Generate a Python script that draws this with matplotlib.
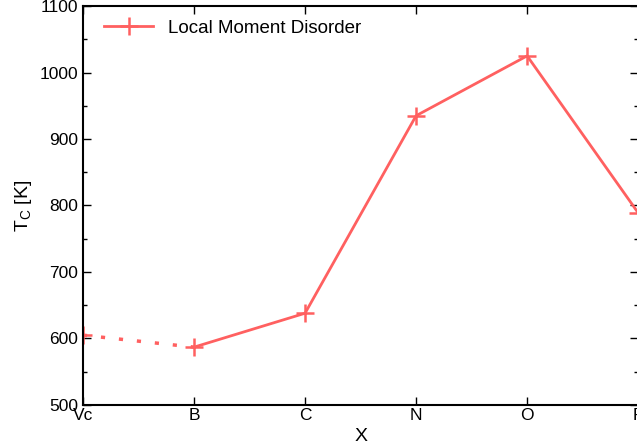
import matplotlib
matplotlib.use("Agg")
import matplotlib.pyplot as plt
from matplotlib.ticker import MultipleLocator

plt.rcParams['font.family'] = ['Liberation Sans', 'DejaVu Sans']
plt.rcParams['mathtext.fontset'] = 'custom'
plt.rcParams['mathtext.rm'] = 'Liberation Sans'
plt.rcParams['mathtext.it'] = 'Liberation Sans:italic'

# data
labels = ['Vc', 'B', 'C', 'N', 'O', 'F']
tc = [605, 587, 638, 935, 1025, 789]

color = '#ff6060'
x = list(range(len(labels)))

fig = plt.figure(figsize=(6.37, 4.48), dpi=100)
ax = fig.add_axes([0.1303, 0.096, 0.8715, 0.8906])

# dotted link Vc -> B, solid for the rest
ax.plot(x[:2], tc[:2], ls=(0, (1.2, 4.0)), lw=2.5, color=color, dash_capstyle='butt')
ax.plot(x[1:], tc[1:], ls='-', lw=2, color=color)
ax.plot(x, tc, ls='none', marker='+', ms=13, mew=1.8, color=color)
ax.plot([], [], ls='-', lw=2, marker='+', ms=13, mew=1.8, color=color,
        label='Local Moment Disorder')

ax.set_xlim(0, 5)
ax.set_ylim(500, 1100)
ax.set_xticks(x)
ax.set_xticklabels(labels)
ax.yaxis.set_major_locator(MultipleLocator(100))
ax.yaxis.set_minor_locator(MultipleLocator(50))
ax.tick_params(which='both', direction='in', top=True, right=True, labelsize=12.5)
ax.tick_params(which='major', length=6, width=1)
ax.tick_params(which='minor', length=3, width=1)
ax.tick_params(axis='x', pad=2)
for s in ax.spines.values():
    s.set_linewidth(1.5)

ax.set_xlabel('X', fontsize=14, labelpad=4)
ax.set_ylabel(r'T$_\mathrm{C}$ [K]', fontsize=14, labelpad=4)

ax.legend(loc='upper left', frameon=False, fontsize=13.5, handlelength=2.6,
          handletextpad=0.8, borderaxespad=0.0, bbox_to_anchor=(0.025, 0.985))

fig.savefig('out.png', dpi=100)
